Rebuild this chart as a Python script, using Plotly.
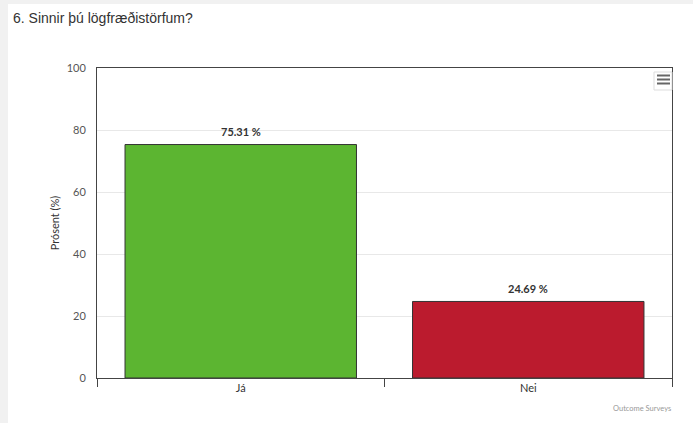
import plotly.graph_objects as go

categories = ["Já", "Nei"]
values = [75.31, 24.69]
colors = ["#5cb531", "#bb1b2e"]
y_ticks = [0, 20, 40, 60, 80, 100]

fig = go.Figure()
fig.add_trace(go.Bar(
    x=categories, y=values,
    marker=dict(color=colors, line=dict(color="#333333", width=1)),
    width=0.805,
    hoverinfo="skip",
))

for c, v in zip(categories, values):
    fig.add_annotation(x=c, y=v, text=f"<b>{v:.2f} %</b>", showarrow=False,
                       yshift=13, font=dict(family="Lato, Open Sans, sans-serif", size=11, color="#333333"))

L, R, T, B = 97, 21, 68, 45
fig.update_layout(
    width=693, height=423,
    margin=dict(l=L, r=R, t=T, b=B),
    paper_bgcolor="white", plot_bgcolor="white",
    showlegend=False,
    font=dict(family="Lato, Open Sans, sans-serif", color="#555555", size=11),
    xaxis=dict(
        showline=True, linecolor="#444444", linewidth=1, mirror=True,
        ticks="outside", ticklen=8, tickcolor="#444444", tickson="boundaries",
        tickfont=dict(size=11, color="#333333"), showgrid=False,
    ),
    yaxis=dict(
        range=[0, 100], tickvals=y_ticks, showline=True, linecolor="#444444", linewidth=1,
        mirror=True, showgrid=True, gridcolor="#e8e8e8", zeroline=False, ticks="",
        tickfont=dict(size=11, color="#555555"), ticklabelstandoff=8,
        title=dict(text="Prósent (%)", font=dict(size=11, color="#333333"), standoff=4),
    ),
)

pw, ph = 693 - L - R, 423 - T - B
def px(xp):
    return (xp - L) / pw
def py(yp):
    return (423 - B - yp) / ph

# title
fig.add_annotation(xref="paper", yref="paper", x=px(11), y=py(18), xanchor="left", yanchor="middle",
                   text="6. Sinnir þú lögfræðistörfum?", showarrow=False,
                   font=dict(family="Liberation Sans, Arial, sans-serif", size=14, color="#333333"))
# credits
fig.add_annotation(xref="paper", yref="paper", x=px(673), y=py(408), xanchor="right", yanchor="middle",
                   text="Outcome Surveys", showarrow=False,
                   font=dict(size=7.5, color="#999999"))

# page edge shading (left strip and top strip)
fig.add_shape(type="rect", xref="paper", yref="paper", x0=px(0), x1=px(8), y0=py(423), y1=py(0),
              fillcolor="#f1f1f1", line_width=0, layer="below")
fig.add_shape(type="rect", xref="paper", yref="paper", x0=px(0), x1=px(693), y0=py(4), y1=py(0),
              fillcolor="#f1f1f1", line_width=0, layer="below")
# keep the right edge white
fig.add_shape(type="rect", xref="paper", yref="paper", x0=px(676), x1=px(693), y0=py(423), y1=py(4),
              fillcolor="white", line_width=0, layer="above")

# export menu button
fig.add_shape(type="rect", xref="paper", yref="paper", x0=px(654), x1=px(672), y0=py(90), y1=py(72),
              fillcolor="white", line=dict(color="#dddddd", width=1))
for yy in [75.5, 79.5, 83.5]:
    fig.add_shape(type="line", xref="paper", yref="paper", x0=px(657), x1=px(670), y0=py(yy), y1=py(yy),
                  line=dict(color="#666666", width=2))

fig.write_html(
    "out.html",
    config={"displayModeBar": False},
    post_script=("document.documentElement.style.overflow='hidden';"
                 "document.body.style.overflow='hidden';"
                 "document.body.style.margin='0px';document.body.style.background='white';"
                 "document.documentElement.style.background='white';"),
)
